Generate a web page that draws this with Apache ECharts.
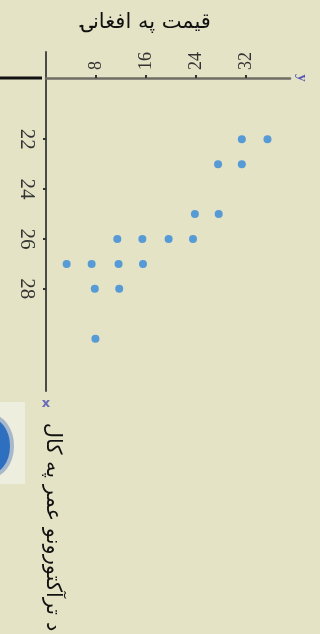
<!DOCTYPE html>
<html>
<head>
    <meta charset="utf-8">
    <title>scatter</title>
    <script src="https://cdn.jsdelivr.net/npm/echarts@6/dist/echarts.min.js"></script>
</head>
<body style="margin:0;background:#e4e3c6;">
<div id="main" style="width:320px;height:634px;"></div>
<script type="text/javascript">
    // data (age in years, price)
    var ages   = [22, 22, 23, 23, 25, 25, 26, 26, 26, 26, 27, 27, 27, 27, 28, 28, 30];
    var prices = [31.3, 35.4, 27.5, 31.3, 23.8, 27.6, 11.4, 15.4, 19.6, 23.5, 3.3, 7.3, 11.6, 15.5, 7.8, 11.7, 7.9];
    var priceTicks = [8, 16, 24, 32];
    var ageTicks = [22, 24, 26, 28];
    var titleText = 'قیمت په افغانۍ';
    var ageTitle = 'د ترآکتورونو عمر په کال';

    var points = [];
    for (var i = 0; i < ages.length; i++) {
        points.push([prices[i], ages[i]]);
    }

    var myChart = echarts.init(document.getElementById('main'));
    myChart.setOption({
        backgroundColor: '#e4e3c6',
        animation: false,
        title: {
            text: titleText,
            left: 76,
            top: 7,
            textStyle: {fontFamily: 'DejaVu Sans', fontSize: 21, fontWeight: 'normal', color: '#111'}
        },
        grid: {left: 46, top: 52, width: 244, height: 339},
        xAxis: {
            type: 'value',
            position: 'top',
            offset: -26,   //横轴画在竖轴顶端下面一点
            min: 0,
            max: 39,
            name: 'y',
            nameLocation: 'end',
            nameGap: 4,
            nameRotate: -90,
            nameTextStyle: {color: '#5656b8', fontSize: 15, fontFamily: 'Liberation Serif', fontWeight: 'bold'},
            splitLine: {show: false},
            axisLine: {lineStyle: {color: '#6e6e66', width: 2.5}},
            axisTick: {customValues: priceTicks, length: 3, lineStyle: {color: '#333', width: 2}},
            axisLabel: {
                customValues: priceTicks,
                rotate: -90,
                margin: 8,
                fontFamily: 'Liberation Serif',
                fontSize: 18,
                color: '#333'
            }
        },
        yAxis: {
            type: 'value',
            inverse: true,
            min: 18.5,
            max: 32.1,
            name: 'x',
            nameLocation: 'end',
            nameGap: 6,
            nameTextStyle: {color: '#6a6ab8', fontSize: 13, fontFamily: 'DejaVu Sans', fontWeight: 'bold'},
            splitLine: {show: false},
            axisLine: {lineStyle: {color: '#4a4a46', width: 2}},
            axisTick: {customValues: ageTicks, length: 3, lineStyle: {color: '#333', width: 2}},
            axisLabel: {
                customValues: ageTicks,
                rotate: -90,
                margin: 9,
                fontFamily: 'Liberation Serif',
                fontSize: 21,
                color: '#333'
            }
        },
        graphic: [
            // 左边的黑线
            {type: 'line', shape: {x1: 0, y1: 78, x2: 42, y2: 78}, style: {stroke: '#111', lineWidth: 3}},
            // 左边蓝色图形的一角
            {type: 'rect', shape: {x: 0, y: 402, width: 25, height: 82}, style: {fill: '#eeeedf'}},
            {type: 'ellipse', shape: {cx: -10, cy: 446, rx: 22, ry: 30}, style: {fill: '#2f6fc0', stroke: '#a8b8cc', lineWidth: 4}},
            {
                type: 'text',
                x: 52,
                y: 527,
                rotation: -Math.PI / 2,
                style: {
                    text: ageTitle,
                    fontFamily: 'DejaVu Sans',
                    fontSize: 21,
                    fill: '#111',
                    align: 'center',
                    verticalAlign: 'middle'
                }
            }
        ],
        series: [{
            type: 'scatter',
            symbolSize: 8,
            data: points,
            itemStyle: {color: '#3288d8'}
        }]
    });
</script>
</body>
</html>
